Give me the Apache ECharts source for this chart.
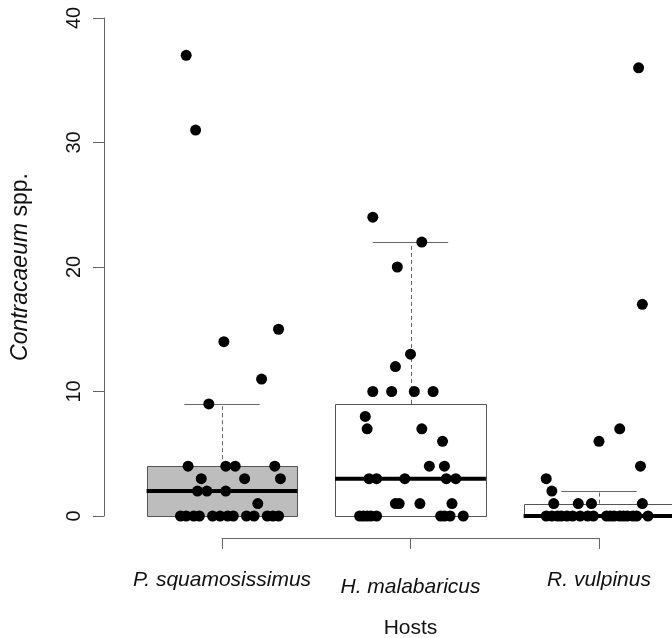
<!DOCTYPE html>
<html>
<head>
<meta charset="utf-8">
<script src="https://cdn.jsdelivr.net/npm/echarts@6/dist/echarts.min.js"></script>
<style>html,body{margin:0;padding:0;background:#fff;}#c{width:672px;height:638px;}</style>
</head>
<body>
<div id="c"></div>
<script>
// ---- data ----
const hosts = ['P. squamosissimus', 'H. malabaricus', 'R. vulpinus'];
const yTicks = [0, 10, 20, 30, 40];
// box statistics: [lower whisker, Q1, median, Q3, upper whisker]
const boxStats = [
  [0, 0, 2, 4, 9],
  [0, 0, 3, 9, 22],
  [0, 0, 0, 1, 2]
];
// jittered observations per host (value, horizontal jitter in category units)
const psqValues = [37, 31, 15, 14, 11, 9, 4, 4, 4, 4, 3, 3, 3, 2, 2, 2, 1,
  0, 0, 0, 0, 0, 0, 0, 0, 0, 0, 0, 0, 0];
const psqJitter = [-0.19, -0.14, 0.30, 0.01, 0.21, -0.07, -0.18, 0.02, 0.07, 0.28, -0.11, 0.12, 0.31, -0.13, -0.08, 0.02, 0.19,
  -0.22, -0.19, -0.15, -0.12, -0.05, -0.01, 0.03, 0.06, 0.13, 0.17, 0.24, 0.27, 0.30];
const hmaValues = [24, 22, 20, 13, 12, 10, 10, 10, 10, 8, 7, 7, 6, 4, 4, 3, 3, 3, 3, 3, 1, 1, 1, 1,
  0, 0, 0, 0, 0, 0, 0, 0, 0];
const hmaJitter = [-0.20, 0.06, -0.07, 0.00, -0.08, -0.20, -0.10, 0.02, 0.12, -0.24, -0.23, 0.06, 0.17, 0.10, 0.18, -0.22, -0.18, -0.03, 0.19, 0.24, -0.08, -0.06, 0.05, 0.22,
  -0.27, -0.25, -0.23, -0.21, -0.18, 0.16, 0.18, 0.21, 0.28];
const rvuValues = [36, 17, 7, 6, 4, 3, 2, 1, 1, 1, 1,
  0, 0, 0, 0, 0, 0, 0, 0, 0, 0, 0, 0, 0, 0, 0, 0, 0, 0];
const rvuJitter = [0.21, 0.23, 0.11, 0.00, 0.22, -0.28, -0.25, -0.24, -0.11, -0.04, 0.23,
  -0.28, -0.25, -0.22, -0.20, -0.17, -0.14, -0.10, -0.06, -0.03, 0.04, 0.06, 0.08, 0.11, 0.13, 0.15, 0.18, 0.20, 0.26];
const boxFills = ['#bdbdbd', '#ffffff', '#ffffff'];

const groups = [[psqValues, psqJitter], [hmaValues, hmaJitter], [rvuValues, rvuJitter]];
const points = [];
groups.forEach(function (g, gi) {
  g[0].forEach(function (v, k) { points.push([gi + 1 + g[1][k], v]); });
});

const FONT = 'Liberation Sans, Arial, Helvetica, sans-serif';
const AX = '#666666';
const chart = echarts.init(document.getElementById('c'), null, { renderer: 'canvas' });

function renderBox(params, api) {
  const i = params.dataIndex;
  const x = i + 1;
  const lo = api.value(1), q1 = api.value(2), med = api.value(3), q3 = api.value(4), hi = api.value(5);
  const tl = api.coord([x - 0.4, q3]);
  const br = api.coord([x + 0.4, q1]);
  const mL = api.coord([x - 0.4, med]);
  const mR = api.coord([x + 0.4, med]);
  const wTop = api.coord([x, hi]);
  const wQ3 = api.coord([x, q3]);
  const wBot = api.coord([x, lo]);
  const wQ1 = api.coord([x, q1]);
  const cL = api.coord([x - 0.2, hi]);
  const cR = api.coord([x + 0.2, hi]);
  const cL2 = api.coord([x - 0.2, lo]);
  const cR2 = api.coord([x + 0.2, lo]);
  const sx = Math.round(tl[0]) + 0.5, ex = Math.round(br[0]) + 0.5;
  return {
    type: 'group',
    children: [
      { type: 'line', shape: { x1: Math.round(wQ3[0]) + 0.5, y1: wQ3[1], x2: Math.round(wTop[0]) + 0.5, y2: wTop[1] },
        style: { stroke: AX, lineWidth: 1, lineDash: [4, 3] } },
      { type: 'line', shape: { x1: Math.round(wQ1[0]) + 0.5, y1: wQ1[1], x2: Math.round(wBot[0]) + 0.5, y2: wBot[1] },
        style: { stroke: AX, lineWidth: 1, lineDash: [4, 3] } },
      { type: 'line', shape: { x1: cL[0], y1: Math.round(cL[1]) + 0.5, x2: cR[0], y2: Math.round(cR[1]) + 0.5 },
        style: { stroke: AX, lineWidth: 1 } },
      { type: 'line', shape: { x1: cL2[0], y1: Math.round(cL2[1]) + 0.5, x2: cR2[0], y2: Math.round(cR2[1]) + 0.5 },
        style: { stroke: AX, lineWidth: 1 } },
      { type: 'rect', shape: { x: sx, y: Math.round(tl[1]) + 0.5, width: ex - sx, height: Math.round(br[1]) - Math.round(tl[1]) },
        style: { fill: boxFills[i], stroke: '#555555', lineWidth: 1 } },
      { type: 'line', shape: { x1: mL[0], y1: mL[1], x2: mR[0], y2: mR[1] },
        style: { stroke: '#000000', lineWidth: 4 } }
    ]
  };
}

chart.setOption({
  animation: false,
  backgroundColor: '#ffffff',
  textStyle: { fontFamily: FONT },
  grid: [
    { left: 222, top: 18, width: 377, height: 498, containLabel: false, outerBoundsMode: 'none' },
    { left: 222, top: 18, width: 377, height: 520, containLabel: false, outerBoundsMode: 'none' }
  ],
  xAxis: [
    { gridIndex: 0, type: 'value', min: 1, max: 3, show: false },
    { gridIndex: 1, type: 'value', min: 1, max: 3, interval: 1,
      axisLine: { show: true, onZero: false, lineStyle: { color: AX, width: 1 } },
      axisTick: { show: true, length: 11, lineStyle: { color: AX, width: 1 } },
      splitLine: { show: false },
      axisLabel: {
        margin: 32, fontSize: 21, fontStyle: 'italic', color: '#111', fontFamily: FONT,
        showMinLabel: true, showMaxLabel: true,
        formatter: function (v) {
          const name = hosts[Math.round(v) - 1] || '';
          return Math.round(v) === 2 ? '{b|' + name + '}' : name;
        },
        rich: { b: { fontSize: 21, fontStyle: 'italic', color: '#111', fontFamily: FONT, padding: [7, 0, 0, 0] } }
      },
      name: 'Hosts', nameLocation: 'middle', nameGap: 80,
      nameTextStyle: { fontSize: 21, color: '#111', fontFamily: FONT }
    }
  ],
  yAxis: [
    { gridIndex: 0, type: 'value', min: yTicks[0], max: yTicks[yTicks.length - 1], interval: 10, offset: 118,
      axisLine: { show: true, onZero: false, lineStyle: { color: AX, width: 1 } },
      axisTick: { show: true, length: 11, lineStyle: { color: AX, width: 1 } },
      splitLine: { show: false },
      axisLabel: { rotate: 90, margin: 20, fontSize: 20, color: '#111', fontFamily: FONT },
      name: '{i|Contracaeum} spp.', nameLocation: 'middle', nameRotate: 90, nameGap: 72,
      nameTextStyle: { fontSize: 23, color: '#111', fontFamily: FONT,
        rich: { i: { fontSize: 23, fontStyle: 'italic', color: '#111', fontFamily: FONT } } }
    },
    { gridIndex: 1, type: 'value', min: 0, max: 1, show: false }
  ],
  series: [
    { type: 'custom', xAxisIndex: 0, yAxisIndex: 0, renderItem: renderBox, clip: false, z: 1,
      data: boxStats.map(function (b, i) { return [i + 1].concat(b); }) },
    { type: 'scatter', xAxisIndex: 0, yAxisIndex: 0, symbol: 'circle', symbolSize: 11, clip: false, z: 3,
      itemStyle: { color: '#000000', opacity: 1 }, data: points }
  ]
});
</script>
</body>
</html>
